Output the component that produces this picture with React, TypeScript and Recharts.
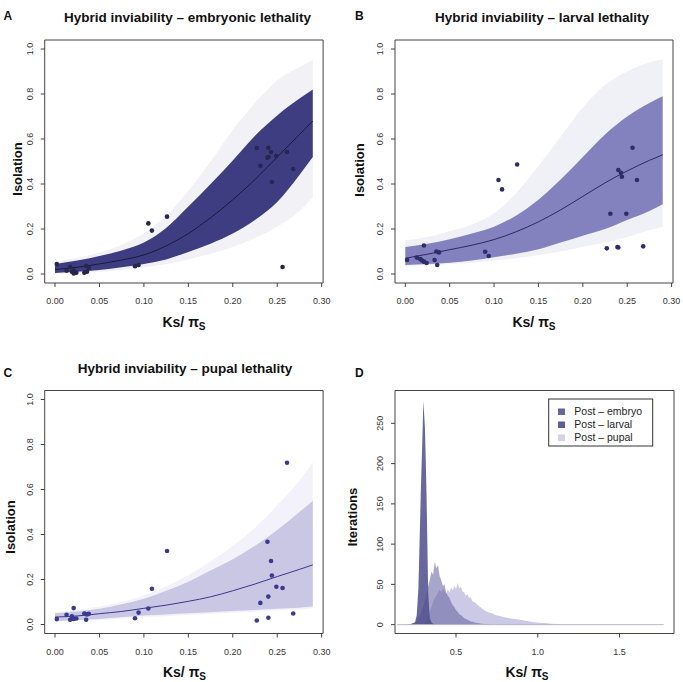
import { ComposedChart, Area, Line, Scatter, XAxis, YAxis, ReferenceArea, ReferenceLine } from "recharts";

const FONT = '"Liberation Sans", Arial, Helvetica, sans-serif';

// Ks/piS of the species pairs (shared by panels A-C)
const KS = [
  0.002, 0.013, 0.017, 0.019, 0.021, 0.021, 0.024, 0.033, 0.035, 0.036,
  0.038, 0.090, 0.094, 0.105, 0.109, 0.126, 0.227, 0.231, 0.239, 0.240,
  0.240, 0.243, 0.244, 0.249, 0.256, 0.261, 0.268,
];
const ISO_EMBRYO = [
  0.044, 0.015, 0.032, 0.010, 0.002, 0.015, 0.006, 0.006, 0.036, 0.010,
  0.027, 0.035, 0.040, 0.225, 0.193, 0.255, 0.560, 0.481, 0.517, 0.561,
  0.520, 0.542, 0.409, 0.524, 0.031, 0.542, 0.467,
];
const ISO_LARVAL = [
  0.062, 0.073, 0.066, 0.060, 0.127, 0.055, 0.049, 0.062, 0.100, 0.040,
  0.096, 0.099, 0.080, 0.418, 0.376, 0.487, 0.114, 0.268, 0.120, 0.462,
  0.118, 0.450, 0.432, 0.268, 0.561, 0.418, 0.123,
];
const ISO_PUPAL = [
  0.024, 0.043, 0.021, 0.036, 0.073, 0.025, 0.027, 0.049, 0.021, 0.045,
  0.048, 0.028, 0.053, 0.071, 0.159, 0.327, 0.018, 0.096, 0.368, 0.124,
  0.030, 0.282, 0.218, 0.168, 0.162, 0.719, 0.049,
];

// fitted curves, read at these Ks values
const CURVE_KS = [0, 0.025, 0.05, 0.075, 0.1, 0.125, 0.15, 0.175, 0.2, 0.225, 0.25, 0.275, 0.29];

const MEAN_A = [0.020, 0.030, 0.045, 0.062, 0.085, 0.125, 0.180, 0.250, 0.330, 0.420, 0.520, 0.620, 0.680];
const CORE_LO_A = [0.005, 0.010, 0.018, 0.030, 0.045, 0.065, 0.098, 0.135, 0.180, 0.240, 0.320, 0.440, 0.520];
const CORE_HI_A = [0.045, 0.060, 0.080, 0.105, 0.140, 0.205, 0.300, 0.400, 0.505, 0.615, 0.705, 0.780, 0.820];
const LIGHT_LO_A = [0.000, 0.004, 0.010, 0.018, 0.030, 0.045, 0.065, 0.090, 0.120, 0.160, 0.210, 0.280, 0.340];
const LIGHT_HI_A = [0.055, 0.072, 0.095, 0.130, 0.180, 0.260, 0.370, 0.500, 0.640, 0.760, 0.860, 0.920, 0.950];

const MEAN_B = [0.070, 0.088, 0.108, 0.128, 0.153, 0.188, 0.232, 0.285, 0.345, 0.405, 0.458, 0.505, 0.530];
const CORE_LO_B = [0.040, 0.045, 0.050, 0.060, 0.075, 0.090, 0.110, 0.140, 0.170, 0.200, 0.240, 0.280, 0.310];
const CORE_HI_B = [0.120, 0.135, 0.155, 0.180, 0.210, 0.260, 0.330, 0.420, 0.520, 0.620, 0.700, 0.760, 0.790];
const LIGHT_LO_B = [0.035, 0.040, 0.045, 0.050, 0.060, 0.070, 0.085, 0.100, 0.120, 0.140, 0.165, 0.195, 0.210];
const LIGHT_HI_B = [0.150, 0.165, 0.190, 0.220, 0.270, 0.360, 0.480, 0.610, 0.740, 0.840, 0.900, 0.940, 0.955];

const MEAN_C = [0.033, 0.038, 0.048, 0.058, 0.072, 0.086, 0.103, 0.123, 0.150, 0.180, 0.213, 0.245, 0.265];
const CORE_LO_C = [0.015, 0.020, 0.025, 0.032, 0.040, 0.045, 0.050, 0.055, 0.060, 0.065, 0.070, 0.075, 0.080];
const CORE_HI_C = [0.050, 0.058, 0.070, 0.090, 0.115, 0.150, 0.190, 0.240, 0.290, 0.350, 0.420, 0.500, 0.550];
const LIGHT_LO_C = [0.012, 0.016, 0.020, 0.026, 0.032, 0.037, 0.042, 0.047, 0.052, 0.057, 0.062, 0.067, 0.072];
const LIGHT_HI_C = [0.055, 0.065, 0.080, 0.100, 0.130, 0.170, 0.220, 0.280, 0.350, 0.430, 0.530, 0.640, 0.720];

// panel D: posterior histograms (iterations per Ks/piS)
const HIST_X = [
  0.14, 0.19, 0.21, 0.23, 0.25, 0.26, 0.27, 0.275, 0.28, 0.285,
  0.29, 0.295, 0.30, 0.305, 0.31, 0.315, 0.32, 0.325, 0.33, 0.34,
  0.35, 0.36, 0.37, 0.38, 0.39, 0.40, 0.41, 0.42, 0.43, 0.44,
  0.45, 0.46, 0.47, 0.48, 0.49, 0.50, 0.51, 0.52, 0.53, 0.54,
  0.55, 0.56, 0.57, 0.58, 0.59, 0.60, 0.62, 0.64, 0.66, 0.68,
  0.70, 0.72, 0.74, 0.76, 0.78, 0.80, 0.83, 0.86, 0.89, 0.92,
  0.95, 0.98, 1.01, 1.04, 1.08, 1.12, 1.16, 1.25, 1.40, 1.60,
  1.77,
];
const HIST_EMBRYO = [
  0, 0, 0.5, 1, 3, 12, 45, 85, 125, 167,
  200, 235, 278, 262, 245, 205, 160, 100, 40, 8,
  3, 1, 0, 0, 0, 0, 0, 0, 0, 0,
  0, 0, 0, 0, 0, 0, 0, 0, 0, 0,
  0, 0, 0, 0, 0, 0, 0, 0, 0, 0,
  0, 0, 0, 0, 0, 0, 0, 0, 0, 0,
  0, 0, 0, 0, 0, 0, 0, 0, 0, 0,
  0,
];
const HIST_LARVAL = [
  0, 0, 0, 1, 3, 5, 8, 10, 12, 14,
  17, 20, 23, 27, 31, 35, 40, 44, 48, 56,
  66, 62, 78, 70, 74, 60, 55, 48, 50, 40,
  36, 33, 28, 24, 22, 18, 16, 13, 12, 10,
  8, 7, 6, 5, 4, 3.5, 2.5, 1.8, 1.2, 0.8,
  0.5, 0.3, 0, 0, 0, 0, 0, 0, 0, 0,
  0, 0, 0, 0, 0, 0, 0, 0, 0, 0,
  0,
];
const HIST_PUPAL = [
  0, 0, 0, 0, 0, 0, 0, 0, 0, 0,
  0, 0.5, 1, 1.5, 2, 3, 5, 7, 10, 16,
  22, 28, 33, 36, 40, 44, 40, 45, 42, 38,
  44, 40, 46, 42, 48, 44, 52, 45, 47, 41,
  40, 36, 38, 33, 34, 29, 27, 23, 20, 17,
  15, 14, 12, 11, 10, 9, 8, 7, 6, 5,
  4, 3, 2.5, 2, 1.2, 0.7, 0.3, 0, 0, 0,
  0,
];

const KS_TICKS = [0, 0.05, 0.1, 0.15, 0.2, 0.25, 0.3];
const ISO_TICKS = [0, 0.2, 0.4, 0.6, 0.8, 1.0];
const ITER_TICKS = [0, 50, 100, 150, 200, 250];
const D_X_TICKS = [0.5, 1.0, 1.5];

const KS_DOMAIN: [number, number] = [-0.0116, 0.3016];
const ISO_DOMAIN: [number, number] = [-0.04, 1.04];
const D_X_DOMAIN: [number, number] = [0.127, 1.833];
const D_Y_DOMAIN: [number, number] = [-11, 290.8];

const TOP_MARGIN = { top: 40, bottom: 28 };
const BOTTOM_MARGIN = { top: 49.5, bottom: 18.5 };
const LEFT_MARGIN = { left: 14.7, right: 17.9 };
const RIGHT_MARGIN = { left: 24, right: 9 };

function curveRows(mean: number[], lo: number[], hi: number[], lightLo: number[], lightHi: number[]) {
  return CURVE_KS.map((ks, i) => ({
    ks,
    mean: mean[i],
    core: [lo[i], hi[i]],
    light: [lightLo[i], lightHi[i]],
  }));
}

function points(iso: number[]) {
  return KS.map((ks, i) => ({ ks, iso: iso[i] }));
}

function RotatedTick(props: any) {
  const { x, y, payload, digits } = props;
  return (
    <text x={x} y={y} transform={`rotate(-90 ${x} ${y})`} textAnchor="middle" fontSize={9} fill="#333" fontFamily={FONT}>
      {Number(payload.value).toFixed(digits)}
    </text>
  );
}

interface Colors {
  light: string;
  core: string;
  line: string;
  point: string;
}

interface CurvePanelProps {
  left: number;
  top: number;
  margin: { top: number; bottom: number; left: number; right: number };
  rows: ReturnType<typeof curveRows>;
  pts: { ks: number; iso: number }[];
  colors: Colors;
}

function CurvePanel({ left, top, margin, rows, pts, colors }: CurvePanelProps) {
  return (
    <div style={{ position: "absolute", left, top }}>
      <ComposedChart width={341} height={341} data={rows} margin={margin} style={{ fontFamily: FONT }}>
        <XAxis
          type="number"
          dataKey="ks"
          domain={KS_DOMAIN}
          ticks={KS_TICKS}
          interval={0}
          allowDataOverflow
          axisLine={false}
          tickLine={{ stroke: "#444" }}
          tickSize={4}
          tickMargin={11}
          height={30}
          tick={{ fontSize: 9, fill: "#333", fontFamily: FONT }}
          tickFormatter={(v: number) => v.toFixed(2)}
        />
        <YAxis
          type="number"
          domain={ISO_DOMAIN}
          ticks={ISO_TICKS}
          interval={0}
          allowDataOverflow
          axisLine={false}
          tickLine={{ stroke: "#444" }}
          tickSize={4}
          tickMargin={8}
          width={30}
          tick={(p: any) => <RotatedTick {...p} digits={1} />}
        />
        <Area dataKey="light" type="monotone" fill={colors.light} fillOpacity={1} stroke="none" isAnimationActive={false} />
        <Area dataKey="core" type="monotone" fill={colors.core} fillOpacity={1} stroke="none" isAnimationActive={false} />
        <Line dataKey="mean" type="monotone" stroke={colors.line} strokeWidth={1} dot={false} isAnimationActive={false} />
        <Scatter
          data={pts}
          dataKey="iso"
          fill={colors.point}
          isAnimationActive={false}
          shape={(p: any) => <circle cx={p.cx} cy={p.cy} r={2.3} fill={colors.point} />}
        />
        <ReferenceArea
          x1={KS_DOMAIN[0]}
          x2={KS_DOMAIN[1]}
          y1={ISO_DOMAIN[0]}
          y2={ISO_DOMAIN[1]}
          fill="none"
          stroke="#444"
          strokeWidth={1}
          ifOverflow="visible"
        />
      </ComposedChart>
    </div>
  );
}

function HistPanel() {
  const rows = HIST_X.map((x, i) => ({
    x,
    embryo: HIST_EMBRYO[i],
    larval: HIST_LARVAL[i],
    pupal: HIST_PUPAL[i],
  }));
  return (
    <div style={{ position: "absolute", left: 341, top: 341 }}>
      <ComposedChart
        width={342}
        height={341}
        data={rows}
        margin={{ ...BOTTOM_MARGIN, ...RIGHT_MARGIN }}
        style={{ fontFamily: FONT }}
      >
        <XAxis
          type="number"
          dataKey="x"
          domain={D_X_DOMAIN}
          ticks={D_X_TICKS}
          interval={0}
          allowDataOverflow
          axisLine={false}
          tickLine={{ stroke: "#444" }}
          tickSize={4}
          tickMargin={11}
          height={30}
          tick={{ fontSize: 9, fill: "#333", fontFamily: FONT }}
          tickFormatter={(v: number) => v.toFixed(1)}
        />
        <YAxis
          type="number"
          domain={D_Y_DOMAIN}
          ticks={ITER_TICKS}
          interval={0}
          allowDataOverflow
          axisLine={false}
          tickLine={{ stroke: "#444" }}
          tickSize={4}
          tickMargin={8}
          width={30}
          tick={(p: any) => <RotatedTick {...p} digits={0} />}
        />
        <ReferenceLine
          segment={[
            { x: HIST_X[0], y: 0 },
            { x: HIST_X[HIST_X.length - 1], y: 0 },
          ]}
          stroke="#b8b8c8"
          strokeWidth={1}
        />
        <Area dataKey="pupal" type="linear" fill="#cbc9e5" fillOpacity={1} stroke="none" isAnimationActive={false} />
        <Area dataKey="larval" type="linear" fill="#605e9e" fillOpacity={0.55} stroke="none" isAnimationActive={false} />
        <Area dataKey="embryo" type="linear" fill="#4f4d8d" fillOpacity={0.85} stroke="none" isAnimationActive={false} />
        <ReferenceArea
          x1={D_X_DOMAIN[0]}
          x2={D_X_DOMAIN[1]}
          y1={D_Y_DOMAIN[0]}
          y2={D_Y_DOMAIN[1]}
          fill="none"
          stroke="#444"
          strokeWidth={1}
          ifOverflow="visible"
        />
      </ComposedChart>
    </div>
  );
}

const LEGEND = [
  { label: "Post \u2013 embryo", color: "#67659f" },
  { label: "Post \u2013 larval", color: "#5f5d9a" },
  { label: "Post \u2013 pupal", color: "#d3d2ea" },
];

function KsLabel({ x, y }: { x: number; y: number }) {
  return (
    <text x={x} y={y} textAnchor="middle" fontSize={14} fontWeight="bold" fill="#111">
      Ks/ π
      <tspan fontSize={10} dy={3}>
        S
      </tspan>
    </text>
  );
}

function VLabel({ x, y, text }: { x: number; y: number; text: string }) {
  return (
    <text x={x} y={y} transform={`rotate(-90 ${x} ${y})`} textAnchor="middle" fontSize={13} fontWeight="bold" fill="#111">
      {text}
    </text>
  );
}

function Overlay() {
  const title = { fontSize: 13.5, fontWeight: "bold" as const, fill: "#111", textAnchor: "middle" as const };
  const letter = { fontSize: 12, fontWeight: "bold" as const, fill: "#111" };
  return (
    <svg
      width={683}
      height={682}
      style={{ position: "absolute", left: 0, top: 0, pointerEvents: "none" }}
      fontFamily={FONT}
    >
      <text x={3.5} y={20} {...letter}>A</text>
      <text x={355} y={20} {...letter}>B</text>
      <text x={3.5} y={376.5} {...letter}>C</text>
      <text x={355} y={376.5} {...letter}>D</text>

      <text x={187.5} y={22} {...title}>Hybrid inviability – embryonic lethality</text>
      <text x={542} y={22} {...title}>Hybrid inviability – larval lethality</text>
      <text x={185} y={373} {...title}>Hybrid inviability – pupal lethality</text>

      <KsLabel x={184} y={327} />
      <KsLabel x={534} y={327} />
      <KsLabel x={184.5} y={677} />
      <KsLabel x={527} y={677} />

      <VLabel x={21.5} y={169} text="Isolation" />
      <VLabel x={363.5} y={170} text="Isolation" />
      <VLabel x={15} y={527} text="Isolation" />
      <VLabel x={357} y={517} text="Iterations" />

      <rect x={548.7} y={399} width={104} height={47} fill="#fff" stroke="#333" strokeWidth={1} />
      {LEGEND.map((item, i) => (
        <g key={item.label}>
          <rect x={558} y={408.5 + i * 13} width={7} height={6.5} fill={item.color} />
          <text x={574.3} y={415 + i * 13} fontSize={10.5} fill="#222">
            {item.label}
          </text>
        </g>
      ))}
    </svg>
  );
}

export default function App() {
  return (
    <div style={{ position: "absolute", left: 0, top: 0, width: 683, height: 682, background: "#fff", overflow: "hidden" }}>
      <CurvePanel
        left={0}
        top={0}
        margin={{ ...TOP_MARGIN, ...LEFT_MARGIN }}
        rows={curveRows(MEAN_A, CORE_LO_A, CORE_HI_A, LIGHT_LO_A, LIGHT_HI_A)}
        pts={points(ISO_EMBRYO)}
        colors={{ light: "#f1f1f6", core: "#3e3d82", line: "#191943", point: "#26264f" }}
      />
      <CurvePanel
        left={341}
        top={0}
        margin={{ ...TOP_MARGIN, ...RIGHT_MARGIN }}
        rows={curveRows(MEAN_B, CORE_LO_B, CORE_HI_B, LIGHT_LO_B, LIGHT_HI_B)}
        pts={points(ISO_LARVAL)}
        colors={{ light: "#f0f0f7", core: "#8382be", line: "#2a2866", point: "#2e2c6c" }}
      />
      <CurvePanel
        left={0}
        top={341}
        margin={{ ...BOTTOM_MARGIN, ...LEFT_MARGIN }}
        rows={curveRows(MEAN_C, CORE_LO_C, CORE_HI_C, LIGHT_LO_C, LIGHT_HI_C)}
        pts={points(ISO_PUPAL)}
        colors={{ light: "#f3f2fa", core: "#c9c7e3", line: "#3a388a", point: "#3b3990" }}
      />
      <HistPanel />
      <Overlay />
    </div>
  );
}
